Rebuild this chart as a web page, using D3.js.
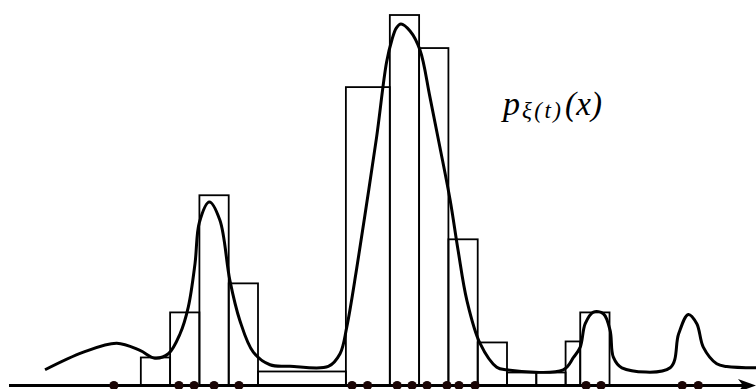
<!DOCTYPE html>
<html lang="en">
<head>
  <meta charset="UTF-8">
  <title>Histogram and density</title>
  <script src="https://d3js.org/d3.v7.min.js"></script>
  <style>
    html, body { margin: 0; padding: 0; background: #fff; }
    .bar { fill: none; stroke: #000; stroke-width: 1.8; }
    .density { fill: none; stroke: #000; stroke-width: 3; }
    .axis-line { stroke: #000; stroke-width: 3; }
    .dot { fill: #1a0505; }
  </style>
</head>
<body>
<svg width="756" height="389"></svg>
<script>
// bin edges and heights of the histogram
const binEdges = [0, 1, 2, 3, 4, 7, 8.5, 9.5, 10.5, 11.5, 12.5, 13.5, 14.5, 15, 16];
const binHeights = [2.8, 7.3, 19.0, 10.2, 1.4, 29.8, 37.0, 33.7, 14.6, 4.3, 1.3, 1.3, 4.4, 7.3];

// sample points (on the axis)
const samples = [-0.92, 1.30, 1.82, 2.50, 3.35, 7.21, 7.74, 8.75, 9.26, 9.77,
                 10.45, 10.86, 11.41, 15.20, 15.71, 18.48, 19.03];

// density curve
const curveX = [-3.27, -1.96, -0.82, -0.03, 0.48, 0.94, 1.34, 1.62, 1.85, 2.0,
                2.34, 2.70, 3.04, 3.38, 3.84, 4.41, 5.09, 6.40, 6.80, 7.03,
                7.37, 7.71, 8.05, 8.39, 8.57, 8.72, 8.88, 9.19, 9.53, 9.87, 10.21,
                10.56, 10.83, 11.13, 11.58, 12.15, 12.49, 14.42, 14.77, 15.00, 15.17,
                15.45, 15.79, 16.02, 16.13, 16.42, 18.07, 18.36, 18.69, 18.98, 19.20,
                19.66, 20.00, 21.0];
const curveY = [1.57, 3.33, 4.23, 3.5, 2.73, 3.17, 5.17, 7.83, 12.17, 16.3,
                18.33, 16.5, 10.5, 6.5, 3.33, 2.07, 1.93, 1.9, 3.17, 5.83,
                11.7, 18.17, 24.83, 32.3, 34.5, 35.7, 36.1, 35.4, 33.5, 28.8, 23.8,
                18.5, 13.5, 8.5, 4.2, 1.83, 1.57, 1.57, 2.8, 3.83, 6.17,
                7.33, 7.17, 5.5, 2.83, 1.77, 1.77, 5.17, 7.1, 6.17, 3.83,
                2.17, 1.9, 1.77];

const xMin = -4.5, xMax = 21;

const svg = d3.select("svg");
const x = d3.scaleLinear().domain([xMin, xMax]).range([9, 756]);
const y = d3.scaleLinear().domain([0, 38.5]).range([385.5, 0]);

const bins = binHeights.map((h, i) => ({x0: binEdges[i], x1: binEdges[i + 1], h: h}));

svg.selectAll(".bar")
  .data(bins)
  .enter().append("rect")
  .attr("class", "bar")
  .attr("x", d => x(d.x0))
  .attr("y", d => y(d.h))
  .attr("width", d => x(d.x1) - x(d.x0))
  .attr("height", d => y(0) - y(d.h));

// x axis with arrow
svg.append("line")
  .attr("class", "axis-line")
  .attr("x1", x(xMin)).attr("x2", x(xMax) - 8)
  .attr("y1", y(0)).attr("y2", y(0));

const tip = x(xMax);
svg.append("path")
  .attr("d", `M${tip},${y(0)} L${tip - 18},${y(0) - 6.5} L${tip - 13},${y(0)} L${tip - 18},${y(0) + 6.5} Z`)
  .attr("fill", "#000");

const pts = curveX.map((v, i) => [v, curveY[i]]);
const line = d3.line()
  .x(d => x(d[0]))
  .y(d => y(d[1]))
  .curve(d3.curveCatmullRom.alpha(0.5));

svg.append("path")
  .attr("class", "density")
  .attr("d", line(pts));

svg.selectAll(".dot")
  .data(samples)
  .enter().append("circle")
  .attr("class", "dot")
  .attr("cx", d => x(d))
  .attr("cy", y(0))
  .attr("r", 4.6);

// label p_{xi(t)}(x)
const serif = "'Liberation Serif', 'Times New Roman', 'DejaVu Serif', serif";
const label = svg.append("g")
  .attr("font-family", serif)
  .attr("font-style", "italic")
  .attr("fill", "#000");
label.append("text")
  .attr("x", 503).attr("y", 115).attr("font-size", 34).text("p");
label.append("text")
  .attr("x", 522).attr("y", 118).attr("font-size", 23)
  .attr("textLength", 39).attr("lengthAdjust", "spacing").text("ξ(t)");
label.append("text")
  .attr("x", 565).attr("y", 115).attr("font-size", 33)
  .attr("textLength", 37).attr("lengthAdjust", "spacing").text("(x)");
</script>
</body>
</html>
